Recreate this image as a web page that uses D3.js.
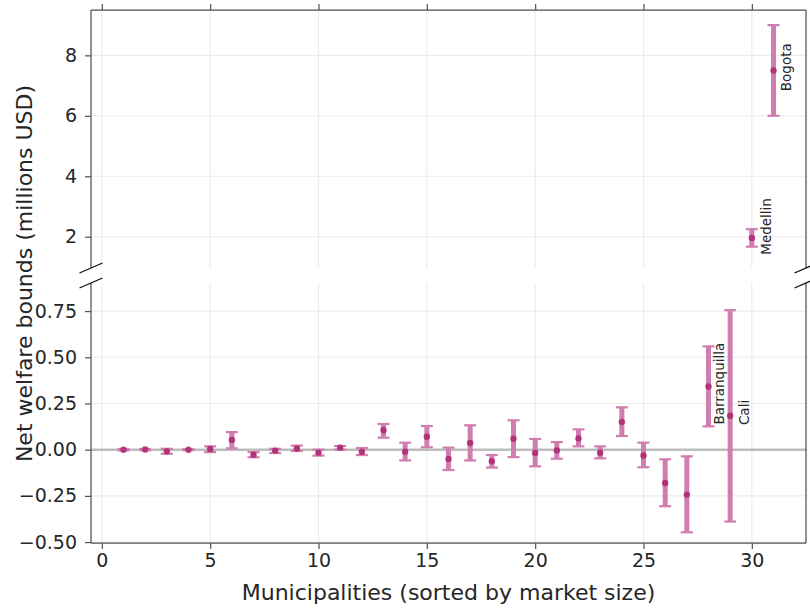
<!DOCTYPE html>
<html>
<head>
<meta charset="utf-8">
<script src="https://cdn.jsdelivr.net/npm/d3@7/dist/d3.min.js"></script>
<style>
  html, body { margin: 0; padding: 0; background: #fff; }
  svg { display: block; }
  text { font-family: "DejaVu Sans", sans-serif; fill: #262626; }
</style>
</head>
<body>
<svg id="chart" width="810" height="610"></svg>
<script>
// Municipalities ranked by market size (x position)
const ranks = [1, 2, 3, 4, 5, 6, 7, 8, 9, 10, 11, 12, 13, 14, 15, 16,
               17, 18, 19, 20, 21, 22, 23, 24, 25, 26, 27, 28, 29, 30, 31];
// Point estimate of net welfare (millions USD)
const estimate = [0.000, 0.001, -0.009, 0.000, 0.004, 0.052, -0.027, -0.005, 0.007, -0.016,
                  0.011, -0.011, 0.105, -0.011, 0.070, -0.050, 0.036, -0.063, 0.059, -0.018,
                  -0.004, 0.061, -0.016, 0.150, -0.031, -0.180, -0.243, 0.342, 0.184, 1.96, 7.50];
// Lower and upper bounds
const lowerBound = [-0.004, -0.003, -0.022, -0.003, -0.013, 0.007, -0.041, -0.018, -0.007, -0.032,
                    0.000, -0.029, 0.065, -0.058, 0.013, -0.110, -0.058, -0.097, -0.040, -0.090,
                    -0.049, 0.018, -0.047, 0.074, -0.095, -0.306, -0.447, 0.126, -0.389, 1.67, 6.00];
const upperBound = [0.004, 0.004, 0.005, 0.003, 0.018, 0.095, -0.013, 0.005, 0.022, 0.000,
                    0.020, 0.009, 0.139, 0.038, 0.128, 0.011, 0.132, -0.029, 0.159, 0.058,
                    0.041, 0.110, 0.018, 0.229, 0.038, -0.052, -0.036, 0.559, 0.755, 2.25, 9.00];
// Named cities
const cityNames = ["Barranquilla", "Cali", "Medellin", "Bogota"];
const cityRanks = [28, 29, 30, 31];
// Tick values
const xTicks = [0, 5, 10, 15, 20, 25, 30];
const yTicksLower = [-0.50, -0.25, 0.00, 0.25, 0.50, 0.75];
const yTicksUpper = [2, 4, 6, 8];

const rows = ranks.map((r, i) => ({ r, est: estimate[i], lo: lowerBound[i], hi: upperBound[i] }));

// ---- layout ----
const L = 91, R = 806;
const topT = 10, topB = 268, botT = 283, botB = 543;
const tickFont = 19, titleFont = 22, labelFont = 13.5;
const barColor = "#d07daf", dotColor = "#b02a72";
const gridColor = "#ebebeb", spineColor = "#4f4f4f";

const svg = d3.select("#chart");

const x = d3.scaleLinear().domain([-0.5, 32.5]).range([L, R]);
const yUp = d3.scaleLinear().domain([0.965, 9.5]).range([topB, topT]);
const yLo = d3.scaleLinear().domain([-0.505, 0.902]).range([botB, botT]);

const panels = [
  { id: "upper", y: yUp, t: topT, b: topB, ticks: yTicksUpper, fmt: d3.format("d") },
  { id: "lower", y: yLo, t: botT, b: botB, ticks: yTicksLower, fmt: d3.format(".2f") }
];

const defs = svg.append("defs");

panels.forEach(p => {
  defs.append("clipPath").attr("id", "clip-" + p.id)
    .append("rect").attr("x", L).attr("y", p.t).attr("width", R - L).attr("height", p.b - p.t);

  const g = svg.append("g");

  // grid
  g.append("g").selectAll("line").data(xTicks).join("line")
    .attr("x1", d => x(d)).attr("x2", d => x(d))
    .attr("y1", p.t).attr("y2", p.b)
    .attr("stroke", gridColor).attr("stroke-width", 1.1);
  g.append("g").selectAll("line").data(p.ticks).join("line")
    .attr("x1", L).attr("x2", R)
    .attr("y1", d => p.y(d)).attr("y2", d => p.y(d))
    .attr("stroke", gridColor).attr("stroke-width", 1.1);

  const plot = g.append("g").attr("clip-path", `url(#clip-${p.id})`);

  // zero reference line
  plot.append("line")
    .attr("x1", L).attr("x2", R)
    .attr("y1", p.y(0)).attr("y2", p.y(0))
    .attr("stroke", "#bdbdbd").attr("stroke-width", 2.4);

  // error bars with caps and point estimates
  const eb = plot.append("g").selectAll("g").data(rows).join("g");
  eb.append("line")
    .attr("x1", d => x(d.r)).attr("x2", d => x(d.r))
    .attr("y1", d => p.y(d.lo)).attr("y2", d => p.y(d.hi))
    .attr("stroke", barColor).attr("stroke-width", 5);
  eb.append("line")
    .attr("x1", d => x(d.r) - 6).attr("x2", d => x(d.r) + 6)
    .attr("y1", d => p.y(d.lo)).attr("y2", d => p.y(d.lo))
    .attr("stroke", barColor).attr("stroke-width", 2.2);
  eb.append("line")
    .attr("x1", d => x(d.r) - 6).attr("x2", d => x(d.r) + 6)
    .attr("y1", d => p.y(d.hi)).attr("y2", d => p.y(d.hi))
    .attr("stroke", barColor).attr("stroke-width", 2.2);
  eb.append("circle")
    .attr("cx", d => x(d.r)).attr("cy", d => p.y(d.est))
    .attr("r", 3.2).attr("fill", dotColor).attr("fill-opacity", 0.9);

  // y axis
  const ya = svg.append("g").attr("transform", `translate(${L},0)`)
    .call(d3.axisLeft(p.y).tickValues(p.ticks).tickFormat(p.fmt).tickSize(6).tickPadding(8));
  ya.select(".domain").remove();
  ya.selectAll(".tick line").attr("stroke", spineColor).attr("stroke-width", 1.2);
  ya.selectAll(".tick text").attr("font-size", tickFont).attr("fill", "#262626")
    .attr("font-family", "DejaVu Sans");

  // spines (left, right)
  svg.append("line").attr("x1", L).attr("x2", L).attr("y1", p.t).attr("y2", p.b)
    .attr("stroke", spineColor).attr("stroke-width", 1.25);
  svg.append("line").attr("x1", R).attr("x2", R).attr("y1", p.t).attr("y2", p.b)
    .attr("stroke", spineColor).attr("stroke-width", 1.25);
});

// top spine with outward ticks on the upper panel
svg.append("line").attr("x1", L).attr("x2", R).attr("y1", topT).attr("y2", topT)
  .attr("stroke", spineColor).attr("stroke-width", 1.25);
const xt = svg.append("g").attr("transform", `translate(0,${topT})`)
  .call(d3.axisTop(x).tickValues(xTicks).tickSize(6).tickFormat(""));
xt.select(".domain").remove();
xt.selectAll(".tick line").attr("stroke", spineColor).attr("stroke-width", 1.2);

// bottom axis on the lower panel
svg.append("line").attr("x1", L).attr("x2", R).attr("y1", botB).attr("y2", botB)
  .attr("stroke", spineColor).attr("stroke-width", 1.25);
const xb = svg.append("g").attr("transform", `translate(0,${botB})`)
  .call(d3.axisBottom(x).tickValues(xTicks).tickFormat(d3.format("d")).tickSize(6).tickPadding(5));
xb.select(".domain").remove();
xb.selectAll(".tick line").attr("stroke", spineColor).attr("stroke-width", 1.2);
xb.selectAll(".tick text").attr("font-size", tickFont).attr("fill", "#262626")
  .attr("font-family", "DejaVu Sans");

// break marks
[[L, topB], [R, topB], [L, botT], [R, botT]].forEach(([cx, cy]) => {
  svg.append("line")
    .attr("x1", cx - 11.5).attr("y1", cy + 5)
    .attr("x2", cx + 11.5).attr("y2", cy - 5)
    .attr("stroke", "#111").attr("stroke-width", 1.3);
});

// city labels
const nudge = {
  Bogota: [12.8, -3.2],
  Medellin: [14, -11.5],
  Barranquilla: [10, -2.8],
  Cali: [13.7, -3.2]
};
cityNames.forEach((name, i) => {
  const row = rows.find(d => d.r === cityRanks[i]);
  const yS = row.est > 0.902 ? yUp : yLo;
  const [dx, dy] = nudge[name];
  svg.append("text")
    .attr("transform", `translate(${x(row.r) + dx},${yS(row.est) + dy}) rotate(-90)`)
    .attr("text-anchor", "middle")
    .attr("dominant-baseline", "central")
    .attr("font-size", labelFont)
    .attr("fill", "#333")
    .text(name);
});

// axis titles
svg.append("text")
  .attr("transform", `translate(${(L + R) / 2},600)`)
  .attr("text-anchor", "middle")
  .attr("font-size", titleFont)
  .text("Municipalities (sorted by market size)");

svg.append("text")
  .attr("transform", `translate(31.5,273.5) rotate(-90)`)
  .attr("text-anchor", "middle")
  .attr("font-size", titleFont)
  .text("Net welfare bounds (millions USD)");
</script>
</body>
</html>
